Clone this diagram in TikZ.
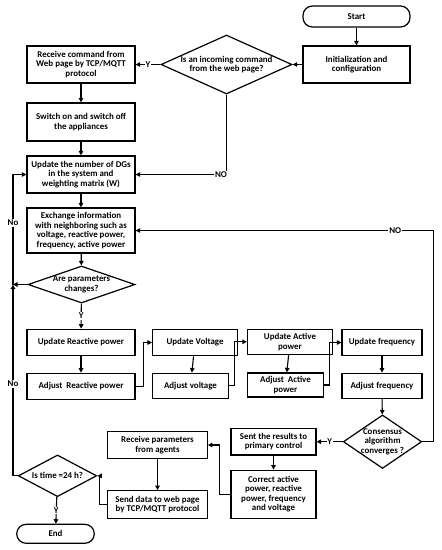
\documentclass[tikz,border=0pt]{standalone}
\usepackage{fontspec}
\setmainfont{Carlito}
\usetikzlibrary{shapes.geometric,arrows.meta}

\tikzset{
  every node/.style={font=\fontsize{8.9}{9.6}\selectfont\bfseries},
  box/.style={draw, line width=1.2pt, align=center, inner sep=1pt},
  term/.style={box, rounded corners=9.5pt},
  decision/.style={diamond, draw, line width=1.2pt, inner sep=0pt, label={[align=center]center:{#1}}},
  lbl/.style={fill=white, inner sep=0.8pt},
  arr/.style={line width=1.1pt, -{Triangle[length=4.5pt,width=4.5pt]}},
}

\begin{document}
\begin{tikzpicture}[x=1pt, y=-1pt]
    \useasboundingbox (0,0) rectangle (442,550);
    % top row
    \node[term, minimum width=107pt, minimum height=21pt] (start) at (356.5,16.5) {Start};
    \node[box, minimum width=107pt, minimum height=37pt] (init) at (356.5,64.5) {Initialization and\\ configuration};
    \node[decision={Is an incoming command\\ from the web page?}, minimum width=131pt, minimum height=59pt] (webq) at (226.5,64.5) {};
    \node[box, minimum width=108pt, minimum height=37pt] (recv) at (81,64.5) {Receive command from\\ Web page by TCP/MQTT\\ protocol};
    % left column
    \node[box, minimum width=108pt, minimum height=38pt] (switch) at (81,122) {Switch on and switch off\\ the appliances};
    \node[box, minimum width=108pt, minimum height=37pt] (dgs) at (81,174.5) {Update the number of DGs\\ in the system and\\ weighting matrix (W)};
    \node[box, minimum width=108pt, minimum height=45pt] (exch) at (81,230.5) {Exchange information\\ with neighboring such as\\ voltage, reactive power,\\ frequency, active power};
    \node[decision={Are parameters\\ changes?}, minimum width=107pt, minimum height=37pt] (paramq) at (81.5,284.5) {};
    \coordinate (jn) at (13,284.5);
    % update / adjust row
    \node[box, minimum width=108pt, minimum height=26.5pt] (upq) at (81,342.5) {Update Reactive power};
    \node[box, minimum width=108pt, minimum height=26pt] (adq) at (81,386.3) {Adjust~ Reactive power};
    \node[box, minimum width=85pt, minimum height=26.5pt] (upv) at (195,342.5) {Update Voltage};
    \node[box, minimum width=76pt, minimum height=25pt] (adv) at (190.5,385.7) {Adjust voltage};
    \node[box, minimum width=85pt, minimum height=25pt] (upa) at (290,341.8) {Update Active\\ power};
    \node[box, minimum width=76pt, minimum height=24pt] (ada) at (285.5,385) {Adjust~ Active\\ power};
    \node[box, minimum width=80pt, minimum height=26.5pt] (upf) at (382,342.5) {Update frequency};
    \node[box, minimum width=80pt, minimum height=25pt] (adf) at (382,385.7) {Adjust frequency};
    % bottom part
    \node[decision={Consensus\\ algorithm\\ converges ?}, minimum width=78.4pt, minimum height=53.5pt] (consq) at (382.5,441.7) {};
    \node[box, minimum width=85pt, minimum height=26.7pt] (sent) at (273.5,441.7) {Sent the results to\\ primary control};
    \node[box, minimum width=85pt, minimum height=48pt] (corr) at (273.5,494.2) {Correct active\\ power, reactive\\ power, frequency\\ and voltage};
    \node[box, minimum width=99.6pt, minimum height=26.6pt] (recvp) at (157.5,445) {Receive parameters\\ from agents};
    \node[box, minimum width=99.6pt, minimum height=27.6pt] (send) at (157.5,504.5) {Send data to web page\\ by TCP/MQTT protocol};
    \node[decision={Is time =24 h?}, minimum width=78.4pt, minimum height=41.7pt] (timeq) at (57.5,475.8) {};
    \node[term, minimum width=77.6pt, minimum height=19pt] (endn) at (55.5,533.8) {End};

    % connectors
    \draw[arr] (start) -- (init);
    \draw[arr] (init) -- (webq);
    \draw[arr] (webq) -- node[lbl] {Y} (recv);
    \draw[arr] (recv) -- (switch);
    \draw[arr] (switch) -- (dgs);
    \draw[arr] (webq.south) |- node[lbl, pos=0.53] {NO} (dgs.east);
    \draw[arr] (dgs) -- (exch);
    \draw[arr] (exch) -- (paramq);
    \draw[arr] (paramq) -- node[lbl] {Y} (upq);
    \foreach \u/\a in {upq/adq, upv/adv, upa/ada, upf/adf} {\draw[arr] (\u) -- (\a);}
    \draw[arr] (adq.east) -- ++(8,0) |- (upv.west);
    \draw[arr] (adv.east) -- ++(5,0) |- (upa.west);
    \draw[arr] (ada.east) -- ++(5,0) |- (upf.west);
    \draw[arr] (adf) -- (consq);
    \draw[arr] (consq.east) -- ++(11,0) |- node[lbl, pos=0.564] {NO} (exch.east);
    \draw[arr] (consq) -- node[lbl] {Y} (sent);
    \draw[arr] (sent) -- (corr);
    \draw[arr] (corr.west) -- ++(-11,0) |- (recvp.east);
    \draw[arr] (recvp) -- (send);
    \draw[arr] (send.west) -- ++(-8,0) |- (timeq.east);
    \draw[arr] (timeq) -- node[lbl] {Y} (endn);
    \draw[arr] (timeq.west) -| node[lbl, pos=0.74] {No} (jn);
    \draw[arr] (paramq.west) -- (jn);
    \draw[arr] (jn) |- node[lbl, pos=0.28] {No} (dgs.west);
\end{tikzpicture}
\end{document}
